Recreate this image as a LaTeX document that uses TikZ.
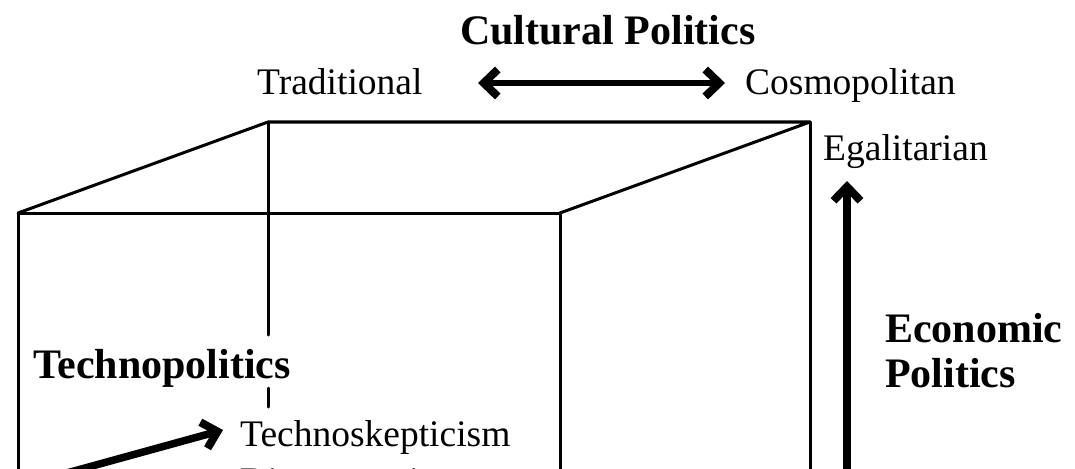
\documentclass[tikz,border=0pt]{standalone}
\usepackage{fontspec}
\setmainfont{Liberation Serif}
\usetikzlibrary{arrows.meta,positioning}
\tikzset{
  % wuerfel
  edge/.style={draw=black,line width=3pt,line cap=round,line join=round},
  % achsen
  barb/.tip={Straight Barb[length=14pt,width=27pt,line width=8pt]},
  axis/.style={draw=black,line width=7.5pt,-{barb}},
  axisboth/.style={draw=black,line width=6pt,{barb}-{barb}},
  pole/.style={anchor=base west,inner sep=0pt,font=\fontsize{37.5}{44}\selectfont},
  dimname/.style={anchor=base west,inner sep=0pt,align=left,font=\fontsize{42}{47}\selectfont\bfseries},
}
\begin{document}
\begin{tikzpicture}[x=1pt,y=-1pt]
  \useasboundingbox (0,0) rectangle (1075,468);
  % ecken
  \coordinate (ftl) at (18,213);
  \coordinate (ftr) at (560,213);
  \coordinate (btl) at (268,122);
  \coordinate (btr) at (810,122);
  \coordinate (fbl) at (18,490);
  \coordinate (fbr) at (560,490);
  \coordinate (bbr) at (810,490);
  \coordinate (hid1) at (268,335);
  \coordinate (hid2) at (268,388);
  \coordinate (hid3) at (268,407);
  \draw[edge] (fbl) -- (ftl) -- (ftr) -- (fbr);
  \draw[edge] (ftl) -- (btl) -- (btr) -- (ftr);
  \draw[edge] (btr) -- (bbr);
  \draw[edge] (btl) -- (hid1);
  \draw[edge] (hid2) -- (hid3);
  % beschriftung
  \node[dimname] (cult) at (460,45) {Cultural Politics};
  \node[pole] (trad) at (257,95) {Traditional};
  \node[pole] (cosmo) at (745,95) {Cosmopolitan};
  \node[pole] (egal) at (823,160) {Egalitarian};
  \node[dimname] (econ) at (885,387) {Economic\\[-2pt]Politics};
  \node[dimname] (techno) at (33,378) {Technopolitics};
  \node[pole] (skep) at (240,446) {Technoskepticism};
  \node[pole] (disc) at (240,493) {Disconnection};
  % pfeile
  \coordinate (cl) at (478,83);
  \coordinate (cr) at (725,83);
  \coordinate (eb) at (847,500);
  \coordinate (et) at (847,181);
  \coordinate (tb) at (16,487);
  \coordinate (tt) at (223,430);
  \draw[axisboth] (cl) -- (cr);
  \draw[axis] (eb) -- (et);
  \draw[axis] (tb) -- (tt);
\end{tikzpicture}
\end{document}
